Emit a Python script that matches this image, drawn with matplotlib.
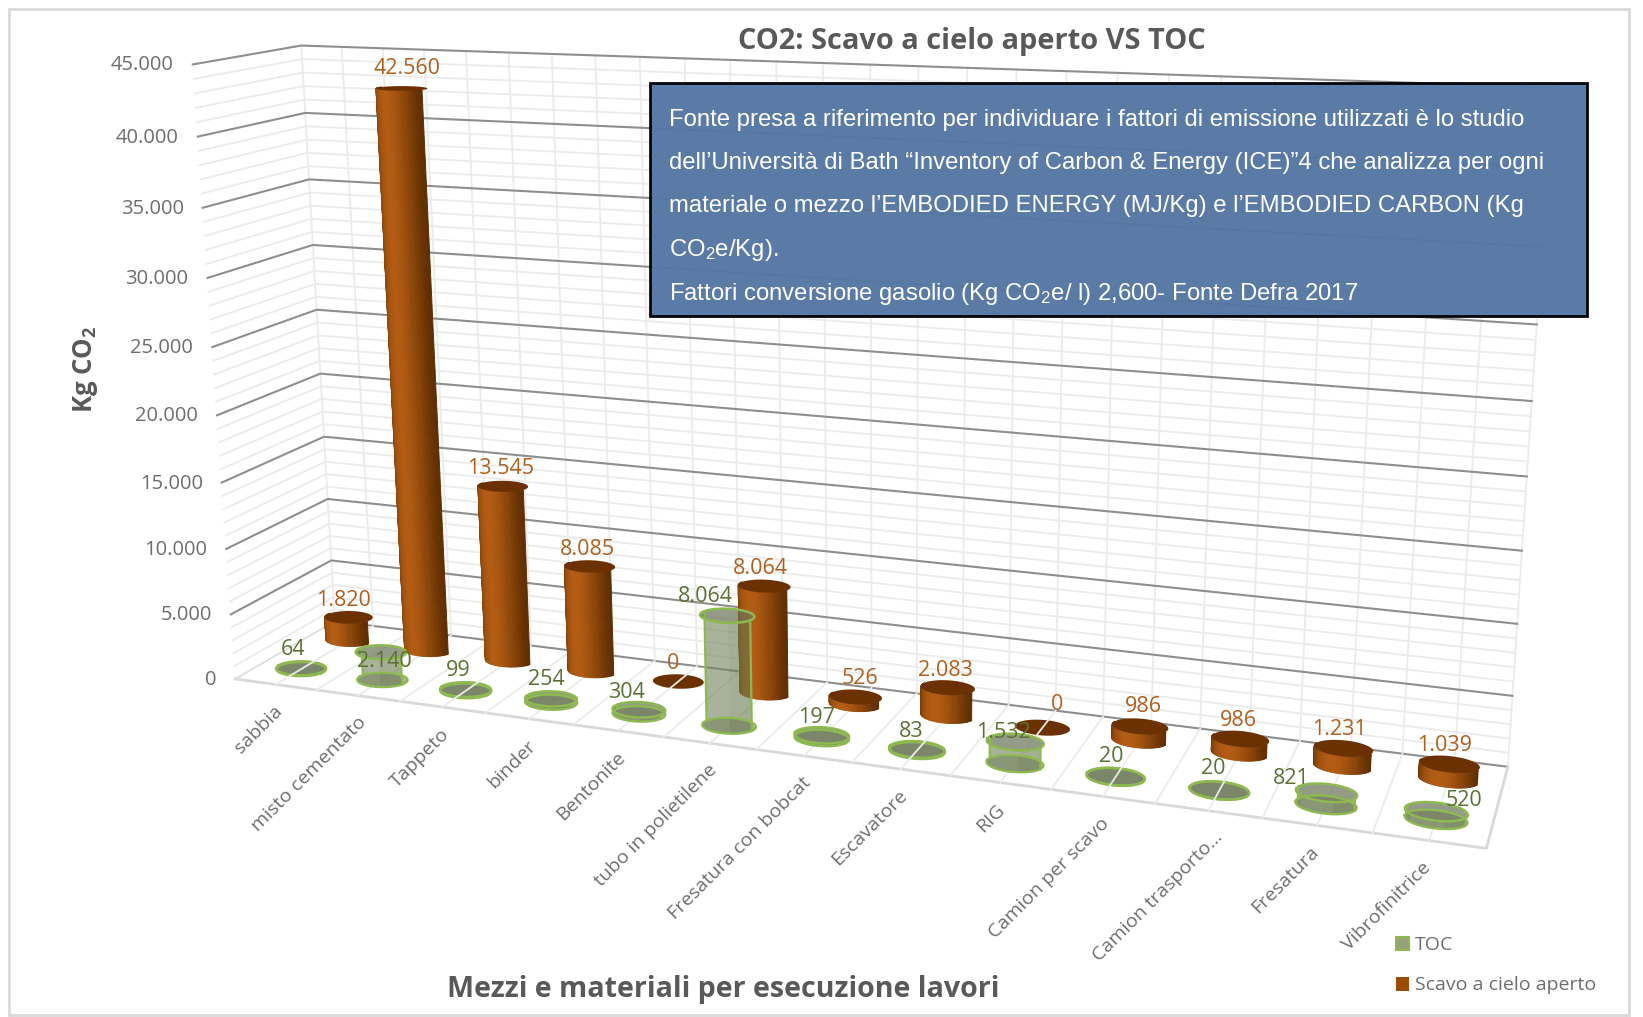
import numpy as np
import matplotlib
matplotlib.use("Agg")
import matplotlib.pyplot as plt
from matplotlib.patches import Rectangle, Patch
from mpl_toolkits.mplot3d import proj3d
from mpl_toolkits.mplot3d.art3d import Poly3DCollection

categories = ["sabbia", "misto cementato", "Tappeto", "binder", "Bentonite", "tubo in polietilene",
              "Fresatura con bobcat", "Escavatore", "RIG", "Camion per scavo", "Camion trasporto...",
              "Fresatura", "Vibrofinitrice"]
toc = [64, 2140, 99, 254, 304, 8064, 197, 83, 1532, 20, 20, 821, 520]
scavo = [1820, 42560, 13545, 8085, 0, 8064, 526, 2083, 0, 986, 986, 1231, 1039]
yticks = list(range(0, 45001, 5000))
yminor = [v for v in range(0, 45001, 1000) if v % 5000]
# hand placement of the labels, in pixels
scavo_dx = [-4, 6, -2, -2, -5, -4, 4, -3, 14, 3, -3, -5, -6]
scavo_dy = [1, 2, 1, 0, 1, 0, 1, 0, 5, 2, 0, 0, 0]
toc_dx = [-7, 4, -7, -4, -12, -22, -5, -6, -12, -5, -7, -36, 27]
toc_dy = [2, -26, 2, 2, 0, 1, 0, 0, -9, 2, 3, -5, -8]
cat_dx = [0, 2, 0, 0, 0, 0, 0, 0, -2, 0, 8, -5, -5]

W, H = 1643, 1017
S = 2000
plt.rcParams["font.family"] = ["Open Sans", "DejaVu Sans"]
plt.rcParams["mathtext.default"] = "regular"
fig = plt.figure(figsize=(W / 100, H / 100), dpi=100, facecolor="white")
ax = fig.add_subplot(projection="3d", computed_zorder=False)
ax.set_axis_off()
ax.set_xlim(0, 13); ax.set_ylim(0, 2); ax.set_zlim(0, 45000)

elev, azim, roll, focal, ry, rz, zoom, cx0, cy0 = 14.0508, -69.7533, 0.3202, 0.2263, 0.1538, 0.5027, 0.7249, 810.1972, 435.6257
ax.view_init(elev=elev, azim=azim, roll=roll)
ax.set_proj_type("persp", focal_length=focal)
ax.set_box_aspect((1, ry, rz), zoom=zoom)
ax.set_position([(cx0 - S / 2) / W, (H - cy0 - S / 2) / H, S / W, S / H])
ax.apply_aspect()
M = ax.get_proj()

def label(x, y, z, s, dx=0, dy=0, **kw):
    xp, yp, _ = proj3d.proj_transform(x, y, z, M)
    ax.annotate(s, (xp, yp), xytext=(dx, dy), textcoords="offset pixels", annotation_clip=False, zorder=20, **kw)

MAJOR = "#8E8E8E"; MINOR = "#EBEBEB"
half_steps = np.arange(0.5, 13, 0.5)
for v in yminor:
    ax.plot([0, 0, 13], [0, 2, 2], [v, v, v], color=MINOR, lw=1.3, zorder=1)
for xv in half_steps:
    ax.plot([xv, xv], [2, 2], [0, 45000], color=MINOR, lw=1.3, zorder=1)
ax.plot([0, 0], [2, 2], [0, 45000], color=MINOR, lw=1.3, zorder=1)
ax.plot([13, 13], [2, 2], [0, 45000], color=MINOR, lw=1.3, zorder=1)
for v in yticks[1:]:
    ax.plot([0, 0, 13], [0, 2, 2], [v, v, v], color=MAJOR, lw=1.5, zorder=1.5)
ax.plot([0, 13], [2, 2], [0, 0], color=MAJOR, lw=1.5, zorder=1.5)
ax.plot([0, 0], [0, 2], [0, 0], color="#DDDDDD", lw=1.3, zorder=1.5)
ax.plot([0, 13, 13], [0, 0, 2], [0, 0, 0], color="#D9D9D9", lw=2, zorder=1.5)

dark = np.array(matplotlib.colors.to_rgb("#5F2E00"))
light = np.array(matplotlib.colors.to_rgb("#B25C14"))
GREEN = "#8DB950"
RX, RY = 0.28, 0.21
TH = np.linspace(-np.pi, np.pi, 73)
OFF = np.radians(15)

def wall(xc, yc, h, a, b, color, z0):
    th = np.linspace(a, b, 40)
    xs = xc + RX * np.cos(th); ys = yc + RY * np.sin(th)
    poly = list(zip(xs, ys, np.zeros_like(xs))) + list(zip(xs[::-1], ys[::-1], np.full_like(xs, h)))
    ax.add_collection3d(Poly3DCollection([poly], facecolors=color, edgecolors="none", zorder=z0))

def cylinder(xc, yc, h, kind, z0):
    cx = xc + RX * np.cos(TH); cy = yc + RY * np.sin(TH)
    if kind == "toc" and h > 0:
        ax.add_collection3d(Poly3DCollection([list(zip(cx, cy, np.zeros_like(cx)))], facecolors=(0.45, 0.50, 0.36, 0.6), edgecolors="none", zorder=z0 - .1))
    if h > 0:
        if kind == "scavo":
            quads = []; cols = []
            for k in range(len(TH) - 1):
                mid = (TH[k] + TH[k + 1]) / 2 + OFF
                if np.sin(mid) > 0.02:
                    continue
                quads.append([(cx[k], cy[k], 0), (cx[k + 1], cy[k + 1], 0), (cx[k + 1], cy[k + 1], h), (cx[k], cy[k], h)])
                t = abs(np.sin(mid)) ** 2
                cols.append(tuple(dark + (light - dark) * t))
            ax.add_collection3d(Poly3DCollection(quads, facecolors=cols, edgecolors=cols, linewidths=0.7, zorder=z0))
        else:
            wall(xc, yc, h, -np.pi - OFF, -OFF, (0.40, 0.47, 0.30, 0.6), z0)
            wall(xc, yc, h, -np.pi / 2 - OFF - .6, -np.pi / 2 - OFF + .6, (1, 1, 1, 0.07), z0 + .01)
    top = [list(zip(cx, cy, np.full_like(cx, h)))]
    if kind == "scavo":
        ax.add_collection3d(Poly3DCollection(top, facecolors="#6B3100", edgecolors="none", zorder=z0 + .1))
    else:
        ax.add_collection3d(Poly3DCollection(top, facecolors=(0.42, 0.46, 0.34, 0.72), edgecolors="none", zorder=z0 + .1))
        ax.plot(cx, cy, np.full_like(cx, h), color=GREEN, lw=1.8, zorder=z0 + .2)
        if h > 0:
            ax.plot(cx, cy, np.zeros_like(cx), color=GREEN, lw=1.7, zorder=z0 + .2)
            for th in (np.pi - OFF, -OFF):
                xs = xc + RX * np.cos(th); ys = yc + RY * np.sin(th)
                ax.plot([xs, xs], [ys, ys], [0, h], color=GREEN, lw=1.6, zorder=z0 + .2)

for i in range(13):
    cylinder(i + .5, 1.5, scavo[i], "scavo", 1.2 if scavo[i] < 100 else 3)
    cylinder(i + .5, 0.5, toc[i], "toc", 1.2 if toc[i] < 100 else 5)
for xv in half_steps:
    ax.plot([xv, xv], [0, 2], [0, 0], color=MINOR, lw=1.3, zorder=1.6)

fmt = lambda v: f"{v:,}".replace(",", ".")
for i in range(13):
    label(i + .5, 1.5, scavo[i] + 1300, fmt(scavo[i]), scavo_dx[i], scavo_dy[i], color="#B0601E", fontsize=15.5, ha="center", va="center")
    label(i + .5, 0.5, toc[i] + 1300, fmt(toc[i]), toc_dx[i], toc_dy[i], color="#5B7233", fontsize=15.5, ha="center", va="center")
for v in yticks:
    label(0, 0, v, fmt(v), -19, -1, color="#6E6E6E", fontsize=14.5, ha="right", va="center")
for i, c in enumerate(categories):
    label(i + .5, 0, 0, c, 4 + cat_dx[i], -24, color="#6E6E6E", fontsize=14, rotation=45, rotation_mode="anchor", ha="right", va="center")

fig.add_artist(Rectangle((9 / W, 1 - 1015 / H), 1620 / W, 1006 / H, transform=fig.transFigure, fill=False, ec="#D9D9D9", lw=2))
fig.text(972 / W, 1 - 42 / H, "CO2: Scavo a cielo aperto VS TOC", fontsize=20.9, fontweight="bold", color="#595959", ha="center", va="center")
fig.text(723 / W, 1 - 990 / H, "Mezzi e materiali per esecuzione lavori", fontsize=20.6, fontweight="bold", color="#595959", ha="center", va="center")
fig.text(86 / W, 1 - 369 / H, "Kg CO$_2$", fontsize=18.5, fontweight="bold", color="#595959", rotation=90, ha="center", va="center")
fig.add_artist(Rectangle((650 / W, 1 - 316 / H), 937 / W, 233 / H, transform=fig.transFigure, fc="#5677A4", ec="black", lw=2, alpha=0.97, zorder=5))
lines = ["Fonte presa a riferimento per individuare i fattori di emissione utilizzati è lo studio",
         "dell’Università di Bath “Inventory of Carbon & Energy (ICE)”4 che analizza per ogni",
         "materiale o mezzo l’EMBODIED ENERGY (MJ/Kg) e l’EMBODIED CARBON (Kg",
         "CO$_2$e/Kg).",
         "Fattori conversione gasolio (Kg CO$_2$e/ l) 2,600- Fonte Defra 2017"]
for yy, t in zip([120, 163, 206, 250, 294], lines):
    fig.text(669 / W, 1 - yy / H, t, color="white", fontsize=17.2, family=["Liberation Sans"], va="center", zorder=6)
fig.legend(handles=[Patch(fc="#95A37A", ec=GREEN, lw=1.5, label="TOC"), Patch(fc="#9E4A00", label="Scavo a cielo aperto")],
           loc="lower right", bbox_to_anchor=(1614 / W, 1 - 1012 / H), frameon=False, fontsize=14, labelcolor="#6E6E6E",
           labelspacing=1.15, handlelength=.7, handleheight=.7, handletextpad=.3)
fig.savefig("out.png", dpi=100)
